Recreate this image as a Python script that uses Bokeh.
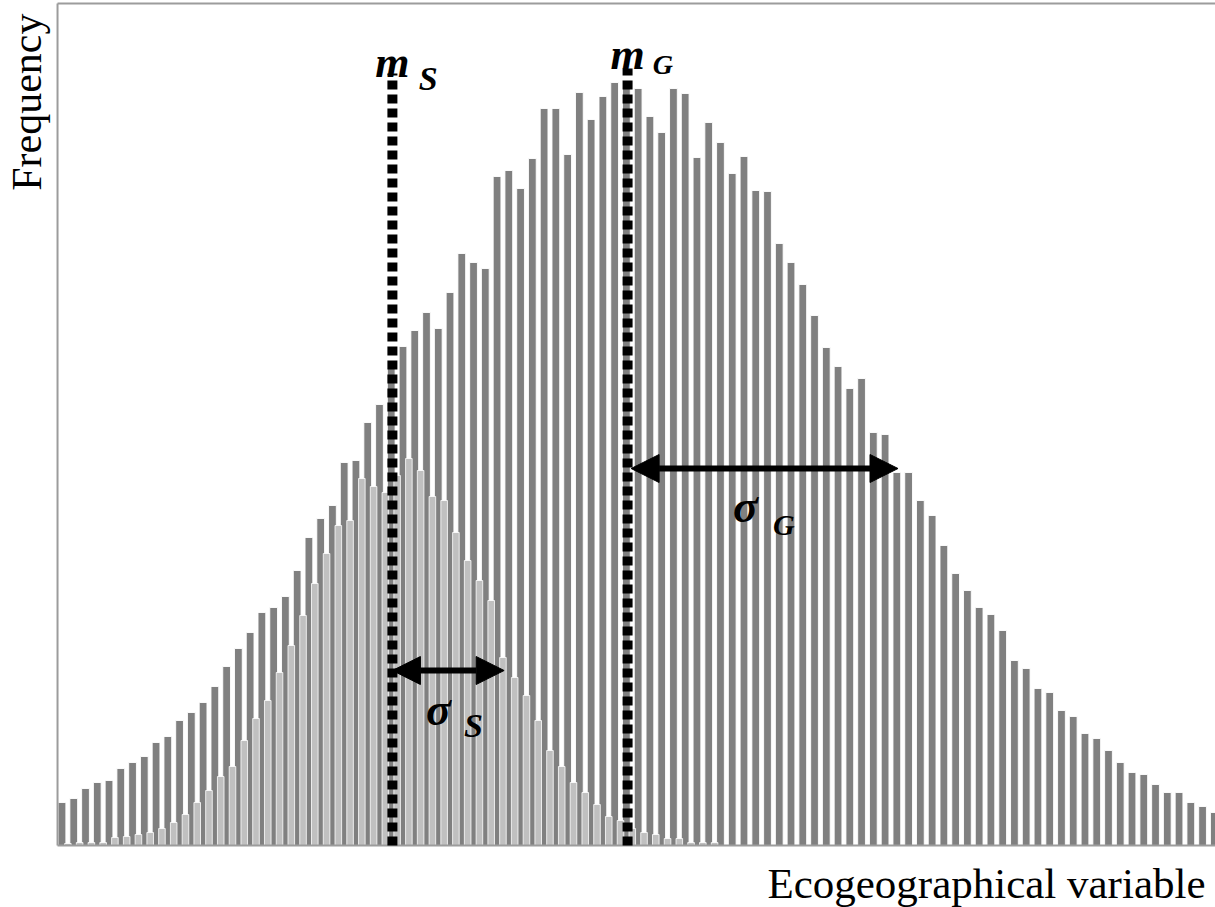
import numpy as np
from bokeh.plotting import figure
from bokeh.models import Range1d, Arrow, NormalHead
from bokeh.core.properties import value
from bokeh.embed import file_html
from bokeh.resources import INLINE

# Frequency of each class of the ecogeographical variable
global_freq = [43, 47, 57, 63, 65, 77, 83, 89, 103, 109,
               125, 133, 143, 159, 179, 197, 213, 233, 238, 249,
               275, 308, 327, 340, 383, 385, 423, 441, 477, 499,
               515, 533, 517, 553, 592, 583, 577, 669, 675, 657,
               687, 737, 737, 691, 753, 726, 749, 763, 765, 757,
               729, 713, 757, 752, 688, 723, 703, 672, 689, 655,
               654, 602, 583, 561, 530, 498, 479, 457, 467, 413,
               411, 373, 373, 345, 330, 300, 272, 255, 238, 231,
               215, 185, 177, 157, 153, 135, 129, 112, 107, 95,
               83, 73, 71, 61, 53, 53, 43, 39, 33]
species_freq = [2, 3, 3, 3, 8, 9, 11, 13, 17, 23,
                31, 43, 55, 69, 79, 105, 127, 145, 173, 200,
                230, 262, 292, 320, 325, 367, 359, 353, 370, 387,
                375, 349, 345, 313, 285, 265, 245, 188, 168, 150,
                125, 95, 79, 63, 53, 41, 29, 25, 17, 13,
                11, 7, 7, 3, 3, 3, 0, 0, 0, 0,
                0, 0, 0, 0, 0, 0, 0, 0, 0, 0,
                0, 0, 0, 0, 0, 0, 0, 0, 0, 0,
                0, 0, 0, 0, 0, 0, 0, 0, 0, 0,
                0, 0, 0, 0, 0, 0, 0, 0, 0]

mean_species = 28.1
mean_global = 48.1
sd_species = 9.5
sd_global = 23.0

bins = np.arange(len(global_freq))

x_lo, x_hi = -0.38, 98.1
y_top = 842

p = figure(width=1215, height=907,
           x_range=Range1d(-5.23, x_hi), y_range=Range1d(-62, 845),
           output_backend="svg", toolbar_location=None, min_border=0,
           x_axis_type=None, y_axis_type=None)
p.outline_line_color = None
p.background_fill_color = "white"
p.border_fill_color = "white"

# histogram bars: whole study area behind, species in front (half a class to the right)
p.vbar(x=bins, top=global_freq, bottom=0, width=0.66,
       fill_color="#808080", line_color="white", line_width=0.9)
p.vbar(x=bins + 0.5, top=species_freq, bottom=0, width=0.56,
       fill_color="#c0c0c0", line_color="white", line_width=0.8)

# frame lines
frame_col = "#9c9c9c"
p.segment(x0=[x_lo, x_lo, x_lo], y0=[0, y_top, 0],
          x1=[x_lo, x_hi + 1, x_hi + 1], y1=[y_top, y_top, 0],
          line_color=frame_col, line_width=2)

# means
p.segment(x0=[mean_species, mean_global], y0=[0, 0],
          x1=[mean_species, mean_global], y1=[772, 777],
          line_color="black", line_width=10, line_dash="9 5", line_cap="butt")

# standard deviations
for x0, x1, yy in [(mean_species, mean_species + sd_species, 175),
                   (mean_global + 0.3, mean_global + sd_global, 377)]:
    p.add_layout(Arrow(x_start=x0, y_start=yy, x_end=x1, y_end=yy,
                       line_color="black", line_width=6,
                       start=NormalHead(size=28, fill_color="black", line_color="black", line_width=1),
                       end=NormalHead(size=28, fill_color="black", line_color="black", line_width=1)))

serif = value("Liberation Serif")

def sym(x, y, txt, size, align="left"):
    p.text(x=[x], y=[y], text=[txt], text_font=serif, text_font_style="bold italic",
           text_font_size=size, text_align=align, text_baseline="alphabetic",
           text_color="black")

sym(mean_species, 783, "m", "44px", "center")
sym(mean_species + 2.24, 767, "S", "34px")
sym(mean_global, 791, "m", "44px", "center")
sym(mean_global + 2.15, 781, "G", "28px")
sym(mean_species + 2.85, 136, "σ", "46px")
sym(mean_species + 6.08, 120, "S", "34px")
sym(mean_global + 8.96, 339, "σ", "46px")
sym(mean_global + 12.36, 321, "G", "30px")

p.text(x=[97.25], y=[-38], text=["Ecogeographical variable"], text_font=serif,
       text_font_size="43px", text_align="right", text_baseline="alphabetic",
       text_color="black")
p.text(x=[-3.0], y=[832], text=["Frequency"], text_font=serif, angle=np.pi / 2,
       text_font_size="42px", text_align="right", text_baseline="alphabetic",
       text_color="black")

open("out.html", "w").write(file_html(p, INLINE))
